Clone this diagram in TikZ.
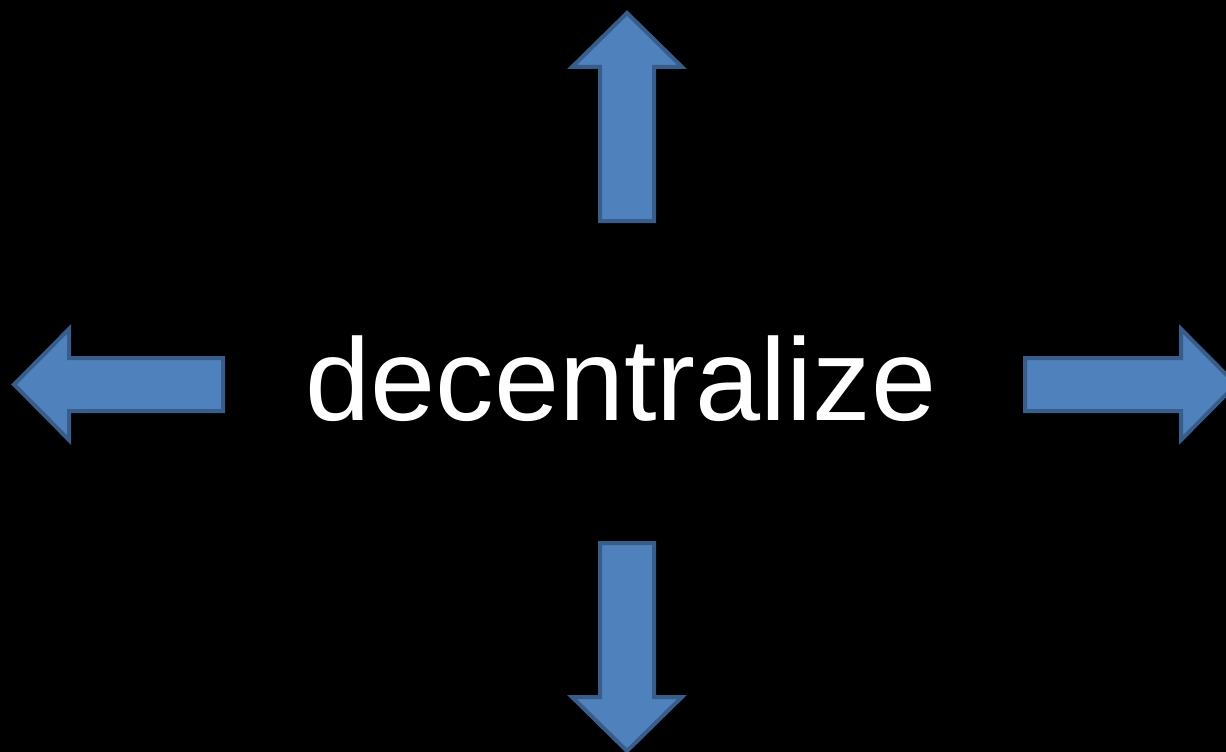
\documentclass[tikz,border=0pt]{standalone}
\usepackage{fontspec}
\setmainfont{Liberation Sans}
\definecolor{arrowfill}{RGB}{79,129,189}
\definecolor{arrowline}{RGB}{56,93,138}
\begin{document}
\begin{tikzpicture}[x=1pt,y=-1pt,
  blockarrow/.style={fill=arrowfill,draw=arrowline,line width=4pt,line join=miter}]
\useasboundingbox (0,0) rectangle (1226,752);
\fill[black] (0,0) rectangle (1226,752);
\clip (0,0) rectangle (1226,752);
% up
\draw[blockarrow] (600,221) -- (600,67) -- (572,67) -- (627,13) -- (682,67) -- (654,67) -- (654,221) -- cycle;
% down
\draw[blockarrow] (600,543) -- (654,543) -- (654,697) -- (682,697) -- (627,751) -- (572,697) -- (600,697) -- cycle;
% left
\draw[blockarrow] (223,358) -- (69,358) -- (69,329) -- (14,384.5) -- (69,440) -- (69,411) -- (223,411) -- cycle;
% right
\draw[blockarrow] (1025,358) -- (1181,358) -- (1181,329) -- (1236,384.5) -- (1181,440) -- (1181,411) -- (1025,411) -- cycle;
\node[text=white,anchor=base,inner sep=0pt,font=\fontsize{117}{140}\selectfont] (word) at (621,420) {decentralize};
\end{tikzpicture}
\end{document}
